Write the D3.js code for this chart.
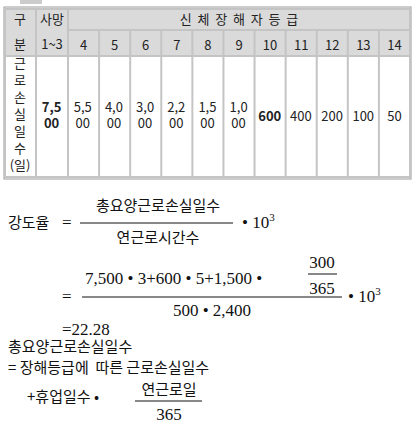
<!DOCTYPE html>
<html><head><meta charset="utf-8">
<script src="https://cdn.jsdelivr.net/npm/d3@7"></script>
<style>body{margin:0;background:#fff} text{white-space:pre}</style>
</head><body>
<svg id="mainplot"></svg>
<script>
var grades = ['사망\n1~3', '4', '5', '6', '7', '8', '9', '10', '11', '12', '13', '14']
var lostDays = ['7,5\n00', '5,5\n00', '4,0\n00', '3,0\n00', '2,2\n00', '1,5\n00', '1,0\n00', '600', '400', '200', '100', '50']
var boldCols = ['사망\n1~3', '10']
var headerTitle = '신  체  장  해  자  등  급'
var rowLabel = ['근', '로', '손', '실', '일', '수', '(일)']

var width = 415, height = 434
var kr = '"Noto Sans CJK KR", sans-serif'
var serif = '"Liberation Serif", "DejaVu Serif", serif'

var svg = d3.select('#mainplot').attr('width', width).attr('height', height)

// table
var x = d3.scaleBand().domain(grades).range([36, 410])
var x4 = d3.scaleBand().domain(grades.slice(1)).range([68, 410])
var border = '#c4c4c4', head = '#dadada'
var y0 = 9, y1 = 30, y2 = 56, y3 = 177

svg.append('rect').attr('x', 4).attr('y', 7).attr('width', 407).attr('height', 172)
	.attr('fill', 'none').attr('stroke', '#999').attr('stroke-width', 1)
svg.append('rect').attr('x', 5).attr('y', y0).attr('width', 405).attr('height', y2 - y0).attr('fill', head)
svg.append('rect').attr('x', 20).attr('y', 0).attr('width', 22).attr('height', 4).attr('fill', '#ccc')

var g = svg.append('g').attr('stroke', border).attr('stroke-width', 2)
g.append('rect').attr('x', 5).attr('y', y0).attr('width', 405).attr('height', y3 - y0).attr('fill', 'none')
g.append('line').attr('x1', 5).attr('x2', 410).attr('y1', y2).attr('y2', y2)
g.append('line').attr('x1', 68).attr('x2', 410).attr('y1', y1).attr('y2', y1)
g.append('line').attr('x1', 36).attr('x2', 36).attr('y1', y0).attr('y2', y3)
g.selectAll('.vb').data(grades.slice(1)).enter().append('line')
	.attr('x1', d => x4(d)).attr('x2', d => x4(d))
	.attr('y1', d => d === '4' ? y0 : y1).attr('y2', y3)

var t = svg.append('g').attr('font-family', kr).attr('font-size', 13).attr('fill', '#222').attr('text-anchor', 'middle')
t.append('text').attr('x', 20).attr('y', 24).text('구')
t.append('text').attr('x', 20).attr('y', 49).text('분')
t.append('text').attr('x', 52).attr('y', 24).text('사망')
t.append('text').attr('x', 52).attr('y', 49).text('1~3')
t.append('text').attr('x', (68 + 410) / 2).attr('y', 24).text(headerTitle)
t.selectAll('.gh').data(grades.slice(1)).enter().append('text')
	.attr('x', d => x4(d) + x4.bandwidth() / 2).attr('y', 50).text(d => d)
t.selectAll('.rl').data(rowLabel).enter().append('text')
	.attr('x', 20).attr('y', (d, i) => 68 + i * 17).text(d => d)

var cells = t.selectAll('.v').data(lostDays).enter().append('text')
	.attr('font-weight', (d, i) => boldCols.includes(grades[i]) ? 'bold' : 'normal')
cells.each(function (d, i) {
	var parts = d.split('\n')
	var cx = x(grades[i]) + x.bandwidth() / 2
	d3.select(this).selectAll('tspan').data(parts).enter().append('tspan')
		.attr('x', cx).attr('y', (p, j) => parts.length > 1 ? 112 + j * 16 : 121).text(p => p)
})

// formulas
var f = svg.append('g').attr('fill', '#111')
function kt(s, xx, yy, anchor) {
	return f.append('text').attr('font-family', kr).attr('font-size', 15).attr('x', xx).attr('y', yy)
		.attr('text-anchor', anchor || 'start').text(s)
}
function st(s, xx, yy, anchor, size) {
	return f.append('text').attr('font-family', serif).attr('font-size', size || 17).attr('x', xx).attr('y', yy)
		.attr('text-anchor', anchor || 'start').text(s)
}
function hl(x1, x2, yy) {
	f.append('line').attr('x1', x1).attr('x2', x2).attr('y1', yy).attr('y2', yy).attr('stroke', '#111').attr('stroke-width', 1)
}
function pow(xx, yy) {
	var e = st('• 10', xx, yy)
	e.append('tspan').attr('font-size', 11).attr('dy', -7).text('3')
}

kt('강도율', 8, 228)
st('=', 62, 228)
kt('총요양근로손실일수', 158, 211, 'middle')
hl(80, 233, 223)
kt('연근로시간수', 158, 243, 'middle')
pow(242, 228)

st('7,500 • 3+600 • 5+1,500 •', 85, 284)
st('300', 322, 268, 'middle')
hl(308, 337, 274)
st('365', 322, 294, 'middle')
st('=', 62, 302)
hl(82, 342, 297)
st('500 • 2,400', 212, 316, 'middle')
pow(348, 302)

st('=22.28', 62, 335)
kt('총요양근로손실일수', 8, 352)
kt('= 장해등급에  따른 근로손실일수', 8, 373)
kt('+휴업일수 •', 27, 402)
kt('연근로일', 169, 395, 'middle')
hl(135, 202, 401)
st('365', 169, 420, 'middle')
</script>
</body></html>
